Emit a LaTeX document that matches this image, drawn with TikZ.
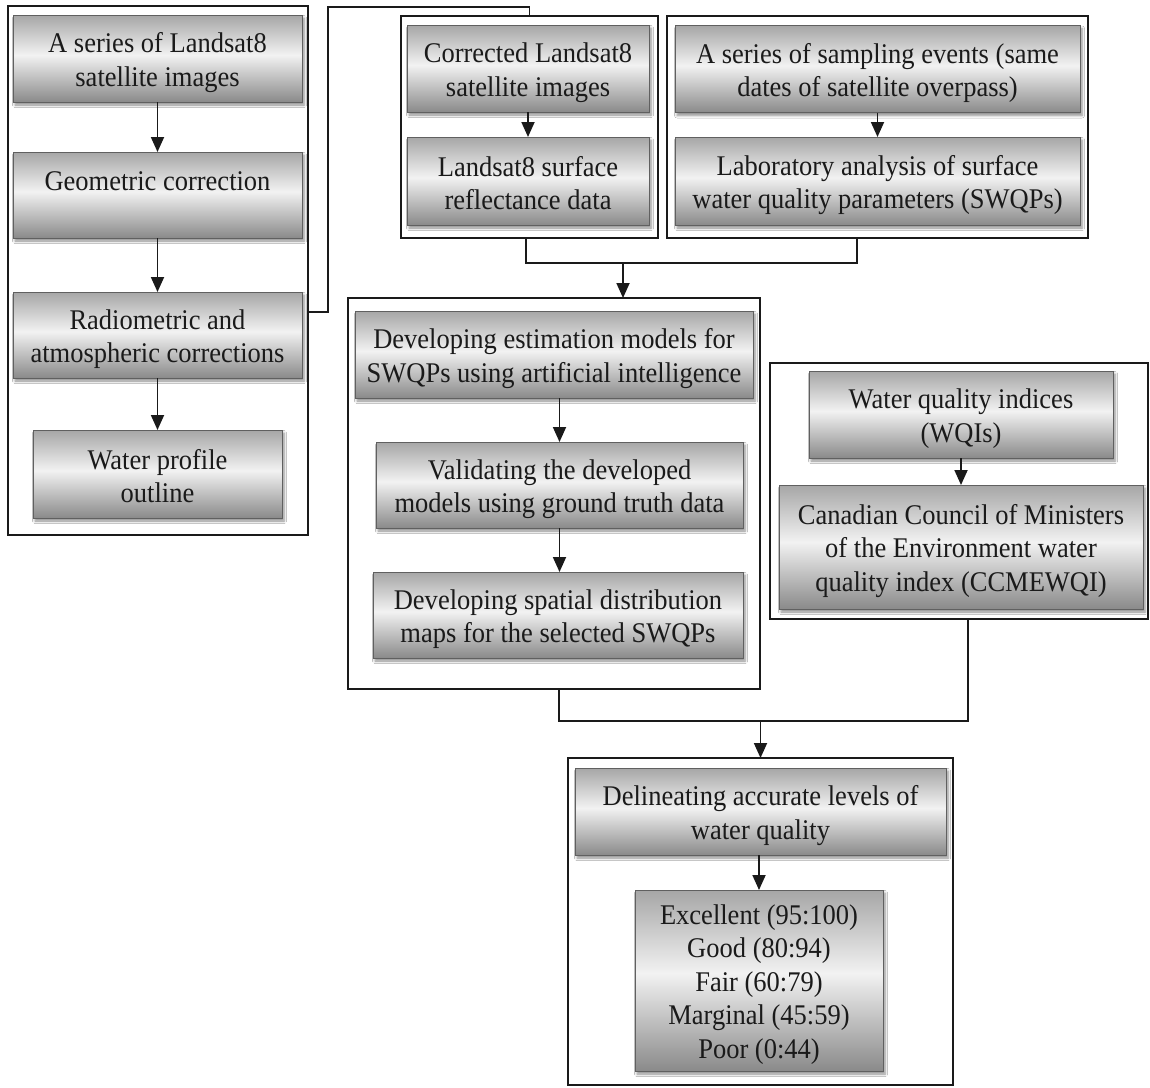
\documentclass[tikz,border=0pt]{standalone}
\usepackage{fontspec}
\setmainfont[FakeStretch=0.93]{Liberation Serif}
\usetikzlibrary{arrows.meta,shadows.blur,calc}
\definecolor{sbot}{HTML}{8A8A8A}
\definecolor{smid}{HTML}{F2F2F2}
\definecolor{stop}{HTML}{A6A6A6}
\definecolor{ink}{HTML}{1A1A1A}
\newcommand\tS{\rule{0pt}{28pt}}
\newcommand\bS{\rule[-4pt]{0pt}{4pt}}
\pgfdeclareverticalshading{wordgray}{100bp}{color(0bp)=(sbot); color(25bp)=(sbot); color(52bp)=(smid); color(75bp)=(stop); color(100bp)=(stop)}
\tikzset{
  inbox/.style={draw=gray!75!black, line width=0.8pt, shading=wordgray, inner sep=0pt, outer sep=0pt,
    align=center, font=\fontsize{28.5}{33.5}\selectfont, text=ink,
    blur shadow={shadow xshift=2pt, shadow yshift=-3pt, shadow blur radius=2.5pt, shadow blur steps=6, shadow opacity=45}},
  outbox/.style={draw=ink, line width=1.8pt, inner sep=0pt, outer sep=0pt},
  conn/.style={draw=ink, line width=1.8pt},
  arr/.style={conn, -{Triangle[length=15pt,width=13pt]}}
}
\begin{document}
\begin{tikzpicture}[x=1pt,y=-1pt]
\useasboundingbox[fill=white] (0,0) rectangle (1150,1087);

% ---------- left group
\node[outbox, minimum width=300pt, minimum height=529pt] (L) at (158,270.5) {};
\node[inbox, minimum width=289pt, minimum height=87pt] (b1) at (157.5,58.5) {\tS A series of Landsat8\\satellite images\bS};
\node[inbox, minimum width=289pt, minimum height=86pt] (b2) at (157.5,195) {\tS Geometric correction\\\mbox{}\bS};
\node[inbox, minimum width=289pt, minimum height=86pt] (b3) at (157.5,335) {\tS Radiometric and\\atmospheric corrections\bS};
\node[inbox, minimum width=249pt, minimum height=88pt] (b4) at (157.5,474) {\tS Water profile\\outline\bS};
\draw[arr] (b1.south) -- (b2.north);
\draw[arr] (b2.south) -- (b3.north);
\draw[arr] (b3.south) -- (b4.north);

% ---------- corrected images group
\node[outbox, minimum width=257pt, minimum height=222pt] (C) at (529.5,127) {};
\node[inbox, minimum width=242pt, minimum height=87pt] (c1) at (528,68.5) {\tS Corrected Landsat8\\satellite images\bS};
\node[inbox, minimum width=242pt, minimum height=88pt] (c2) at (528,181) {\tS Landsat8 surface\\reflectance data\bS};
\draw[arr] (c1.south) -- (c2.north);

% ---------- sampling group
\node[outbox, minimum width=421pt, minimum height=222pt] (D) at (877.5,127) {};
\node[inbox, minimum width=405pt, minimum height=87pt] (d1) at (877.5,69) {\tS A series of sampling events (same\\dates of satellite overpass)\bS};
\node[inbox, minimum width=405pt, minimum height=88pt] (d2) at (877.5,181) {\tS Laboratory analysis of surface\\water quality parameters (SWQPs)\bS};
\draw[arr] (d1.south) -- (d2.north);

% ---------- modelling group
\node[outbox, minimum width=412pt, minimum height=391pt] (E) at (554,493.5) {};
\node[inbox, minimum width=398pt, minimum height=87pt] (e1) at (554,354.5) {\tS Developing estimation models for\\SWQPs using artificial intelligence\bS};
\node[inbox, minimum width=367pt, minimum height=86pt] (e2) at (559.5,485) {\tS Validating the developed\\models using ground truth data\bS};
\node[inbox, minimum width=370pt, minimum height=86pt] (e3) at (558,615) {\tS Developing spatial distribution\\maps for the selected SWQPs\bS};
\draw[arr] (e1.south -| e2.north) -- (e2.north);
\draw[arr] (e2.south) -- (e3.north -| e2.south);

% ---------- WQI group
\node[outbox, minimum width=378pt, minimum height=256pt] (F) at (959,491) {};
\node[inbox, minimum width=304pt, minimum height=87pt] (f1) at (961,414.5) {\tS Water quality indices\\(WQIs)\bS};
\node[inbox, minimum width=364pt, minimum height=124pt] (f2) at (961,547) {\tS Canadian Council of Ministers\\of the Environment water\\quality index (CCMEWQI)\bS};
\draw[arr] (f1.south) -- (f2.north);

% ---------- result group
\node[outbox, minimum width=385pt, minimum height=327pt] (G) at (760.5,921.5) {};
\node[inbox, minimum width=371pt, minimum height=87pt] (g1) at (760.5,811.5) {\tS Delineating accurate levels of\\water quality\bS};
\node[inbox, minimum width=248pt, minimum height=181pt] (g2) at (759,980.5) {\tS Excellent (95:100)\\Good (80:94)\\Fair (60:79)\\Marginal (45:59)\\Poor (0:44)\bS};
\draw[arr] (g1.south -| g2.north) -- (g2.north);

% ---------- connectors between groups
\coordinate (k1) at (328,7);
\draw[conn] ([yshift=-41.5pt]L.east) -| (k1) -| (C.north);

\coordinate (j1) at (623,263);
\draw[conn] ([xshift=-3.5pt]C.south) |- (j1) -| ([xshift=-20.5pt]D.south);
\draw[arr] (j1) -- (E.north -| j1);

\coordinate (j2) at (760.5,721);
\draw[conn] ([xshift=5pt]E.south) |- (j2) -| ([xshift=9pt]F.south);
\draw[arr] (j2) -- (G.north);
\end{tikzpicture}
\end{document}
